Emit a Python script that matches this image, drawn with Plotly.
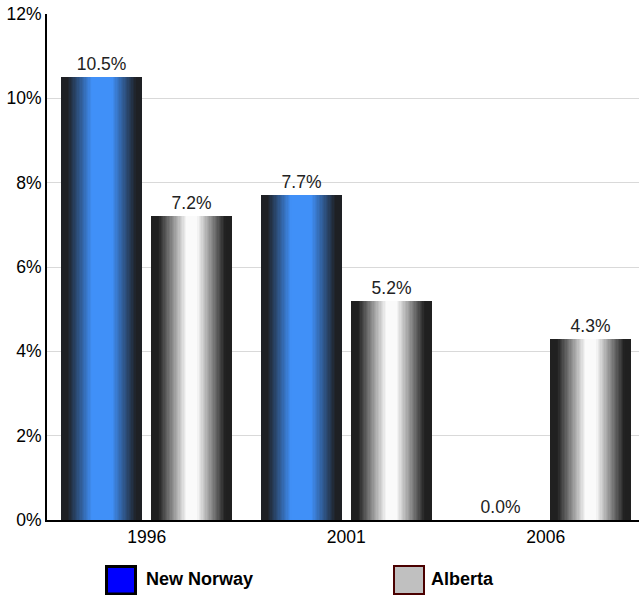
import plotly.graph_objects as go

years = ["1996", "2001", "2006"]
new_norway = [10.5, 7.7, 0.0]
alberta = [7.2, 5.2, 4.3]
y_ticks = [0, 2, 4, 6, 8, 10, 12]
y_tick_labels = ["0%", "2%", "4%", "6%", "8%", "10%", "12%"]

FONT = "Liberation Sans, Arial, sans-serif"
FS = 17.5
W = 0.406          # bar width in category units
OFF_NN = -0.4286
OFF_AB = 0.0226
N = 30             # gradient layers


def lerp(c1, c2, f):
    return tuple(round(a + (b - a) * f) for a, b in zip(c1, c2))


def grad_color(d, dark, peak, d0, d1):
    if d <= d0:
        f = 0.0
    elif d >= d1:
        f = 1.0
    else:
        f = (d - d0) / (d1 - d0)
    return "rgb(%d,%d,%d)" % lerp(dark, peak, f)


fig = go.Figure()


def add_series(values, off, dark, peak, d0, d1, name):
    for k in range(N):
        d = k * 0.5 / N
        col = grad_color(d, dark, peak, d0, d1)
        fig.add_trace(go.Bar(
            x=years, y=values, name=name,
            offset=off + W * d, width=W * (1 - 2 * d),
            marker=dict(color=col, line=dict(width=0)),
            text=[f"{v:.1f}%" for v in values] if k == 0 else None,
            textposition="outside" if k == 0 else "none",
            textfont=dict(family=FONT, size=FS, color="#222222"),
            constraintext="none",
            cliponaxis=False,
            showlegend=False,
            hoverinfo="x+y" if k == 0 else "skip",
        ))


add_series(new_norway, OFF_NN, (30, 32, 36), (64, 144, 248), 0.07, 0.37, "New Norway")
add_series(alberta, OFF_AB, (32, 32, 32), (250, 250, 250), 0.08, 0.43, "Alberta")

L, R, T, B = 47, 0, 14, 75
PW, PH = 639 - L - R, 595 - T - B


def px(x):
    return (x - L) / PW


def py(y):
    return (595 - B - y) / PH


shapes = [
    dict(type="rect", xref="paper", yref="paper",
         x0=px(106.5), x1=px(135.5), y0=py(566.5), y1=py(594),
         fillcolor="#0000ff", line=dict(color="#000000", width=3)),
    dict(type="rect", xref="paper", yref="paper",
         x0=px(394), x1=px(424), y0=py(566), y1=py(594),
         fillcolor="#c0c0c0", line=dict(color="#4a0000", width=2)),
]
annotations = [
    dict(xref="paper", yref="paper", x=px(144), y=py(579), text="<b>New Norway</b>",
         showarrow=False, xanchor="left", yanchor="middle",
         font=dict(family=FONT, size=18, color="#000000")),
    dict(xref="paper", yref="paper", x=px(429), y=py(579), text="<b>Alberta</b>",
         showarrow=False, xanchor="left", yanchor="middle",
         font=dict(family=FONT, size=18, color="#000000")),
]

fig.update_layout(
    width=639, height=595,
    margin=dict(l=L, r=R, t=T, b=B, pad=0),
    paper_bgcolor="white", plot_bgcolor="white",
    barmode="overlay", bargap=0, bargroupgap=0,
    showlegend=False,
    shapes=shapes,
    annotations=annotations,
    font=dict(family=FONT, size=FS, color="#000000"),
    xaxis=dict(
        type="category", range=[-0.5, 2.467],
        showline=True, linecolor="#000000", linewidth=2,
        showgrid=False, ticks="", tickfont=dict(family=FONT, size=FS, color="#000000"),
        fixedrange=True,
    ),
    yaxis=dict(
        range=[0, 12], tickvals=y_ticks, ticktext=y_tick_labels,
        showline=True, linecolor="#000000", linewidth=2,
        showgrid=True, gridcolor="#d9d9d9", gridwidth=1,
        ticks="", ticklabelstandoff=0,
        tickfont=dict(family=FONT, size=FS, color="#000000"),
        zeroline=False, fixedrange=True,
    ),
)

fig.write_html(
    "out.html",
    config={"displayModeBar": False},
    post_script="document.body.style.margin='0';",
)
